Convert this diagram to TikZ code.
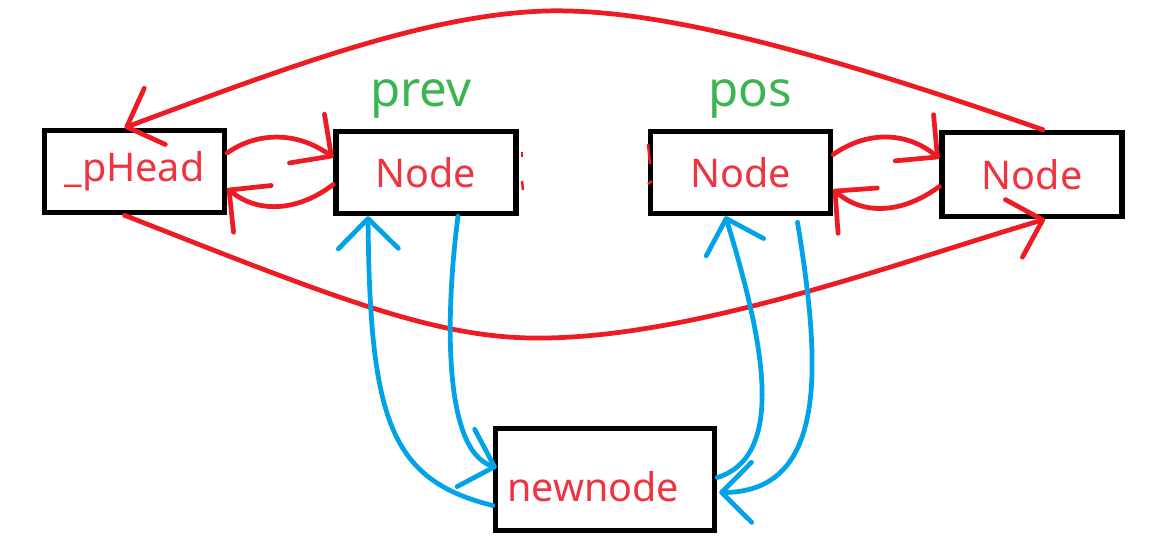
\documentclass[tikz,border=0pt]{standalone}
\usepackage{fontspec}
\setmainfont{Noto Sans}
\usetikzlibrary{arrows.meta,calc}

\definecolor{pred}{HTML}{ED1C24}
\definecolor{pblue}{HTML}{00A2E8}
\definecolor{pgreen}{HTML}{3CB550}
\definecolor{ptext}{HTML}{EE3440}

\tikzset{
  box/.style={draw=black, line width=0.11cm, minimum width=3.6cm, minimum height=1.64cm,
    inner sep=0pt, text=ptext, font=\fontsize{22.5}{26}\selectfont},
  word/.style={text=ptext, font=\fontsize{22.5}{26}\selectfont},
  link/.style={pred, line width=0.095cm, line cap=round,
    -{Straight Barb[length=0.6cm,width=1.2cm,round]}},
  move/.style={pblue, line width=0.095cm, line cap=round,
    -{Straight Barb[length=0.6cm,width=1.2cm,round]}},
  tag/.style={text=pgreen, font=\fontsize{28}{32}\selectfont}
}

\begin{document}
\begin{tikzpicture}[x=0.02cm, y=-0.02cm]

  \useasboundingbox (0,0) rectangle (1162,550);

  % Boxes
  \node[box] (head) at (134.5,171.5) {\_pHead};
  \node[box] (prev) at (426,172.5) {Node};
  \node[box] (pos) at (740.5,172.5) {Node};
  \node[box, minimum height=1.68cm] (tail) at (1032,174.5) {Node};
  \node[box, minimum width=4.38cm, minimum height=2.04cm] (new) at (605,479.5) {};
  \node[word] (newtext) at (593,487) {newnode};

  % Tags
  \node[tag] (prevtag) at (421,99) {prev};
  \node[tag] (postag) at (750,99) {pos};

  % Long links
  \draw[link] ($(tail.north)+(11,0)$) .. controls (800,45) and (650,8) .. (545,11)
    .. controls (430,15) and (300,62) .. ($(head.north)+(-10,0)$);
  \draw[link] ($(head.south)+(-10,0)$) .. controls (340,300) and (440,340) .. (545,338)
    .. controls (700,336) and (900,262) .. ($(tail.south)+(13,0)$);

  % Neighbour links
  \draw[link] ($(head.east)+(0,-18.5)$) .. controls (255,133) and (295,130) .. ($(prev.west)+(0,-15)$);
  \draw[link] ($(prev.west)+(0,12)$) .. controls (300,210) and (260,215) .. ($(head.east)+(0,17)$);
  \draw[link] ($(pos.east)+(0,-18)$) .. controls (865,132) and (905,130) .. ($(tail.west)+(0,-16)$);
  \draw[link] ($(tail.west)+(0,12)$) .. controls (905,212) and (865,217) .. ($(pos.east)+(0,17)$);

  % Leftover marks
  \draw[pred, line width=0.05cm] (522,152) -- (522,157);
  \draw[pred, line width=0.05cm] (522,181) -- (523,190);
  \draw[pred, line width=0.05cm] (648,144) -- (650,164);
  \draw[pred, line width=0.05cm] (648,184) -- (652,181);

  % New node links
  \draw[move] ($(new.west)+(0,26)$) .. controls (390,480) and (370,420) .. ($(prev.south)+(-58,0)$);
  \draw[move] ($(prev.south)+(32,0)$) .. controls (447,300) and (440,450) .. ($(new.west)+(4,-12)$);
  \draw[move] ($(new.east)+(0,-2)$) .. controls (790,455) and (760,330) .. ($(pos.south)+(-15,0)$);
  \draw[move] ($(pos.south)+(57,6)$) .. controls (820,360) and (830,492) .. ($(new.east)+(2,13)$);

\end{tikzpicture}
\end{document}
